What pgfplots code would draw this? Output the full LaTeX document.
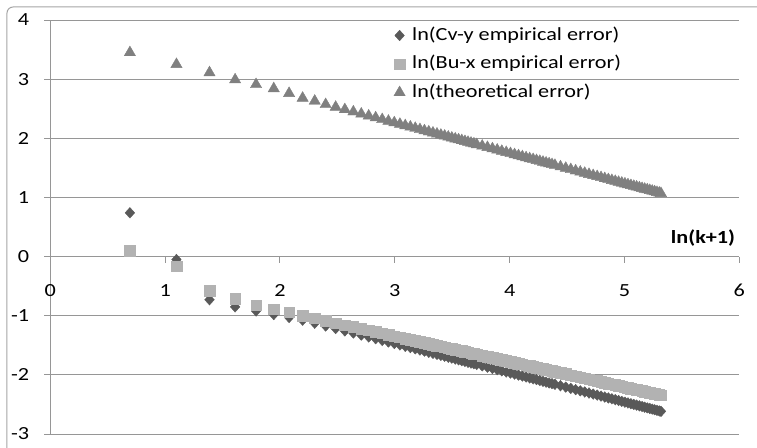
\documentclass[border=0pt]{standalone}
\usepackage{fontspec}
\setmainfont{Carlito}[FakeStretch=1.2]
\usepackage{pgfplots}
\pgfplotsset{compat=1.18}
\usepackage{pgfplotstable}
\definecolor{cvcol}{RGB}{89,89,89}
\definecolor{bucol}{RGB}{178,178,178}
\definecolor{thcol}{RGB}{128,128,128}
\definecolor{gridcol}{RGB}{150,150,150}
\definecolor{framecol}{RGB}{165,165,165}

\pgfplotstableread{
x cv bu th
0.6931 0.74 0.10 3.45
1.0986 -0.05 -0.16 3.25
1.3863 -0.73 -0.58 3.11
1.6094 -0.85 -0.71 2.99
1.7918 -0.92 -0.82 2.91
1.9459 -0.98 -0.89 2.84
2.0794 -1.03 -0.94 2.76
2.1972 -1.075 -1.000 2.68
2.3026 -1.127 -1.045 2.63
2.3979 -1.174 -1.086 2.572
2.4849 -1.217 -1.124 2.527
2.5649 -1.257 -1.158 2.486
2.6391 -1.293 -1.190 2.448
2.7081 -1.328 -1.220 2.412
2.7726 -1.359 -1.248 2.379
2.8332 -1.389 -1.274 2.348
2.8904 -1.418 -1.298 2.318
2.9444 -1.444 -1.321 2.291
2.9957 -1.470 -1.344 2.264
3.0445 -1.494 -1.364 2.239
3.0910 -1.517 -1.384 2.215
3.1355 -1.539 -1.404 2.192
3.1781 -1.560 -1.422 2.170
3.2189 -1.580 -1.439 2.149
3.2581 -1.599 -1.456 2.129
3.2958 -1.618 -1.473 2.110
3.3322 -1.636 -1.488 2.091
3.3673 -1.653 -1.503 2.073
3.4012 -1.670 -1.518 2.055
3.4340 -1.686 -1.532 2.039
3.4657 -1.702 -1.546 2.022
3.4965 -1.717 -1.559 2.006
3.5264 -1.732 -1.572 1.991
3.5553 -1.746 -1.584 1.976
3.5835 -1.760 -1.596 1.962
3.6109 -1.773 -1.608 1.947
3.6376 -1.787 -1.620 1.934
3.6636 -1.800 -1.631 1.920
3.6889 -1.812 -1.642 1.907
3.7136 -1.824 -1.652 1.894
3.7612 -1.848 -1.673 1.870
3.8067 -1.870 -1.692 1.847
3.8501 -1.892 -1.711 1.824
3.8918 -1.912 -1.729 1.803
3.9318 -1.932 -1.746 1.782
3.9703 -1.951 -1.763 1.762
4.0073 -1.969 -1.778 1.743
4.0431 -1.987 -1.794 1.725
4.0775 -2.004 -1.809 1.707
4.1109 -2.020 -1.823 1.690
4.1431 -2.036 -1.837 1.673
4.1744 -2.052 -1.850 1.657
4.2047 -2.067 -1.863 1.642
4.2341 -2.081 -1.876 1.626
4.2627 -2.095 -1.888 1.612
4.2905 -2.109 -1.900 1.597
4.3175 -2.123 -1.912 1.584
4.3438 -2.136 -1.923 1.570
4.3694 -2.148 -1.934 1.557
4.3944 -2.160 -1.945 1.544
4.4427 -2.184 -1.966 1.519
4.4886 -2.207 -1.985 1.495
4.5326 -2.229 -2.004 1.473
4.5747 -2.250 -2.022 1.451
4.6151 -2.270 -2.040 1.430
4.6540 -2.289 -2.057 1.410
4.6913 -2.307 -2.073 1.391
4.7274 -2.325 -2.088 1.372
4.7622 -2.342 -2.103 1.355
4.7958 -2.359 -2.118 1.337
4.8283 -2.375 -2.132 1.320
4.8598 -2.390 -2.145 1.304
4.8903 -2.405 -2.158 1.288
4.9200 -2.420 -2.171 1.273
4.9488 -2.434 -2.183 1.258
4.9767 -2.448 -2.195 1.244
5.0039 -2.462 -2.207 1.230
5.0304 -2.475 -2.218 1.216
5.0562 -2.488 -2.230 1.203
5.0814 -2.500 -2.240 1.190
5.1059 -2.512 -2.251 1.178
5.1299 -2.524 -2.261 1.165
5.1533 -2.535 -2.271 1.153
5.1761 -2.547 -2.281 1.141
5.1985 -2.558 -2.291 1.130
5.2204 -2.569 -2.300 1.119
5.2417 -2.579 -2.309 1.108
5.2627 -2.590 -2.318 1.097
5.2832 -2.600 -2.327 1.086
5.3033 -2.610 -2.336 1.076
5.3181 -2.617 -2.342 1.068
}\data

\begin{document}
\begin{tikzpicture}[x=1pt,y=1pt]
\useasboundingbox (-50.3,-13) rectangle (706.7,434);
\draw[framecol, line width=1pt, rounded corners=6pt] (-43.3,-30) -- (-43.3,427) -- (730,427);
\begin{axis}[
  at={(0,0)}, anchor=south west,
  scale only axis, width=689pt, height=414pt,
  xmin=0, xmax=6, ymin=-3, ymax=4,
  axis x line=middle, axis y line=left,
  axis line style={-, draw=gridcol, line width=1pt},
  xtick={0,1,2,3,4,5,6}, ytick={-3,-2,-1,0,1,2,3,4},
  xticklabels={0,1,2,3,4,5,6},
  yticklabels={{-3},{-2},{-1},{0},{1},{2},{3},{4}},
  hide obscured x ticks=false, hide obscured y ticks=false,
  tick align=outside,
  major tick length=6pt,
  tick style={draw=gridcol, line width=1pt},
  ymajorgrids, grid style={draw=gridcol, line width=1pt},
  ticklabel style={font=\fontsize{18.5}{22}\selectfont, text=black},
  xticklabel style={anchor=center, inner sep=0pt, yshift=-28pt},
  yticklabel style={anchor=east, inner sep=0pt, xshift=-15pt},
  xlabel={\textbf{ln(k+1)}},
  xlabel style={at={(axis description cs:1,0.428571)}, anchor=base east, inner sep=0pt, xshift=-4pt, yshift=13pt, font=\fontsize{18.5}{22}\selectfont},
  legend style={draw=none, fill=none, inner sep=0pt, outer sep=0pt,
    at={(axis description cs:0.4988,0.9855)}, anchor=north west,
    font=\fontsize{18.5}{22}\selectfont, row sep=9.5pt,
    nodes={inner sep=0pt, text height=14pt, text depth=5pt},
    /tikz/every odd column/.append style={column sep=7pt}},
  legend cell align=left,
  legend image code/.code={\draw[#1, only marks] plot coordinates {(0pt,0pt)};},
]
\addplot[only marks, mark=diamond*, mark size=5.3pt, color=cvcol, mark options={draw=cvcol, fill=cvcol, xscale=1.2}] table[x=x, y=cv] {\data};
\addlegendentry{ln(Cv-y empirical error)}
\addplot[only marks, mark=square*, mark size=5.3pt, color=bucol, mark options={draw=bucol, fill=bucol}] table[x=x, y=bu] {\data};
\addlegendentry{ln(Bu-x empirical error)}
\addplot[only marks, mark=triangle*, mark size=6.5pt, color=thcol, mark options={draw=thcol, fill=thcol}] table[x=x, y=th] {\data};
\addlegendentry{ln(theoretical error)}
\end{axis}
\end{tikzpicture}
\end{document}
